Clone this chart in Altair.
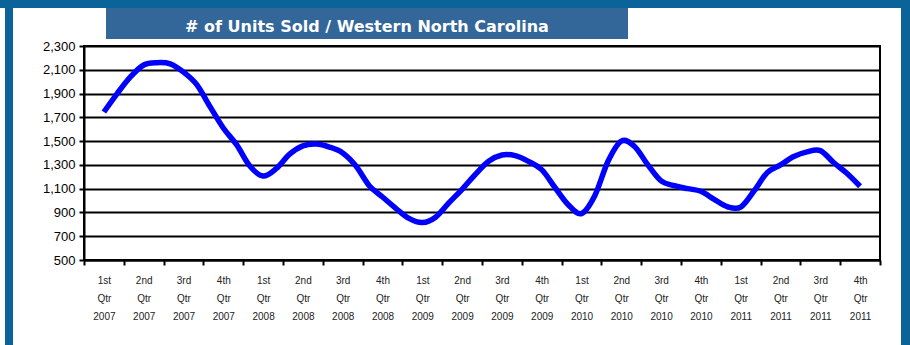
import altair as alt
import pandas as pd

# Quarter categories (x axis labels, split into three lines by "|")
quarters = [
    "1st|Qtr|2007", "2nd|Qtr|2007", "3rd|Qtr|2007", "4th|Qtr|2007",
    "1st|Qtr|2008", "2nd|Qtr|2008", "3rd|Qtr|2008", "4th|Qtr|2008",
    "1st|Qtr|2009", "2nd|Qtr|2009", "3rd|Qtr|2009", "4th|Qtr|2009",
    "1st|Qtr|2010", "2nd|Qtr|2010", "3rd|Qtr|2010", "4th|Qtr|2010",
    "1st|Qtr|2011", "2nd|Qtr|2011", "3rd|Qtr|2011", "4th|Qtr|2011",
]

# Units sold, read every third of a quarter (monthly points)
units_sold = [
    1745, 1900, 2040, 2140, 2160, 2150, 2080, 1975, 1790, 1610,
    1470, 1290, 1207, 1270, 1390, 1460, 1475, 1450, 1400, 1290,
    1125, 1030, 935, 850, 815, 860, 980, 1095, 1220, 1330,
    1383, 1378, 1330, 1260, 1110, 965, 890, 1040, 1330, 1500,
    1455, 1300, 1165, 1125, 1100, 1078, 1010, 948, 945, 1080,
    1235, 1300, 1370, 1410, 1420, 1320, 1230, 1120,
]
y_ticks = [500, 700, 900, 1100, 1300, 1500, 1700, 1900, 2100, 2300]
title_text = "# of Units Sold / Western North Carolina"

line_df = pd.DataFrame({
    "pos": [i / 3 for i in range(len(units_sold))],
    "units": units_sold,
})
q_df = pd.DataFrame({"quarter": quarters})
one = pd.DataFrame({"k": [0]})

BORDER = "#0A6499"
BOX = "#336699"

# Decorations (page frame and title box), in pixels relative to plot origin
frame_top = alt.Chart(one).mark_rect(color=BORDER).encode(
    x=alt.value(-84), x2=alt.value(826), y=alt.value(-46), y2=alt.value(-38))
frame_left = alt.Chart(one).mark_rect(color=BORDER).encode(
    x=alt.value(-79), x2=alt.value(-71), y=alt.value(-46), y2=alt.value(299))
frame_right = alt.Chart(one).mark_rect(color=BORDER).encode(
    x=alt.value(817), x2=alt.value(826), y=alt.value(-46), y2=alt.value(299))
title_box = alt.Chart(one).mark_rect(color=BOX).encode(
    x=alt.value(22), x2=alt.value(544), y=alt.value(-38), y2=alt.value(-7))
title_lbl = alt.Chart(one).mark_text(
    text=title_text, color="white", font="DejaVu Sans", fontWeight="bold",
    fontSize=16, align="center", baseline="middle"
).encode(x=alt.value(283), y=alt.value(-19))

# Category axis layer (band scale, ticks at band edges)
axis_layer = alt.Chart(q_df).mark_point(opacity=0).encode(
    x=alt.X("quarter:O", sort=None,
            scale=alt.Scale(paddingInner=0, paddingOuter=0),
            axis=alt.Axis(title=None, labelAngle=0, tickBand="extent",
                          labelExpr="split(datum.label, '|')",
                          labelFont="Liberation Sans", labelFontSize=10,
                          labelLineHeight=18, labelColor="#222222",
                          labelPadding=10, tickSize=5, tickWidth=2,
                          tickColor="black", domainColor="black",
                          domainWidth=2, grid=False, labelBaseline="top")),
)

line = alt.Chart(line_df).mark_line(
    color="#0000FF", strokeWidth=5.5, interpolate="cardinal"
).encode(
    x=alt.X("pos:Q", scale=alt.Scale(domain=[-0.5, 19.5], nice=False, zero=False),
            axis=None),
    y=alt.Y("units:Q", scale=alt.Scale(domain=[500, 2300], nice=False, zero=False),
            axis=alt.Axis(title=None, values=y_ticks, format=",d",
                          labelFont="Liberation Sans", labelFontSize=13,
                          labelColor="black", labelPadding=4, tickSize=5,
                          tickWidth=2, tickColor="black", domainColor="black",
                          domainWidth=2, grid=True, gridColor="black",
                          gridWidth=2, gridOpacity=1)),
)

chart = alt.layer(
    frame_top, frame_left, frame_right, title_box, title_lbl, axis_layer, line
).resolve_scale(x="independent").properties(
    width=796, height=214,
    autosize=alt.AutoSizeParams(type="none"),
    padding={"left": 84, "top": 46, "right": 30, "bottom": 85},
    background="white",
).configure_view(stroke="black", strokeWidth=2, fill="white")

chart.save("out.html", embed_options={"renderer": "svg", "actions": False})
